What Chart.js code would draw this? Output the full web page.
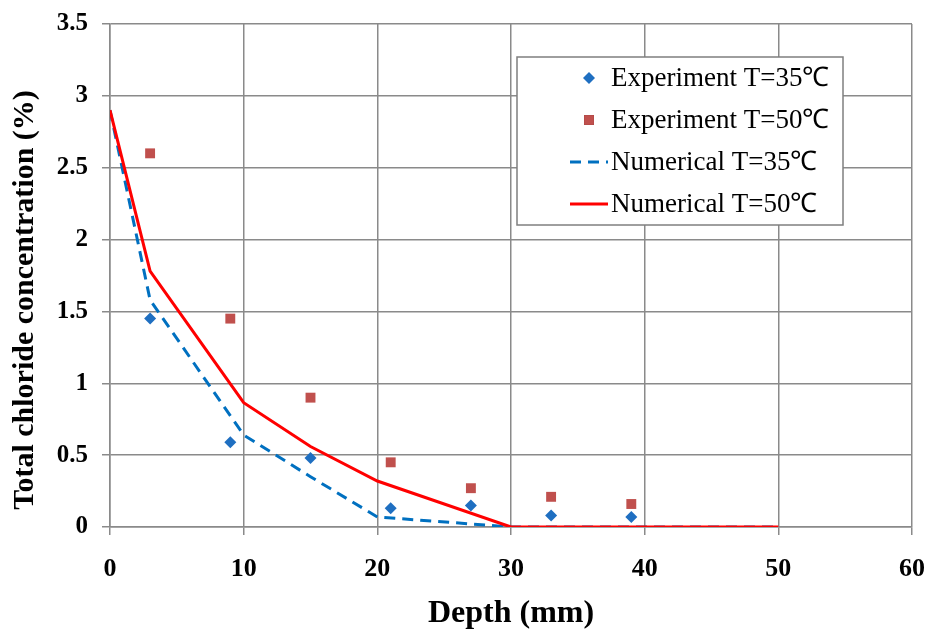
<!DOCTYPE html>
<html lang="en">
<head>
<meta charset="UTF-8">
<title>Total chloride concentration vs depth</title>
<script src="https://cdn.jsdelivr.net/npm/chart.js"></script>
<style>
  html, body { margin: 0; padding: 0; background: #fff; }
  #wrap { width: 930px; height: 633px; }
</style>
</head>
<body>
<div id="wrap"><canvas id="grafico" width="930" height="633"></canvas></div>

<script>
// measured profiles (depth in mm, concentration in %)
const depthExp = [3, 9, 15, 21, 27, 33, 39];
const exp35 = [1.45, 0.59, 0.48, 0.13, 0.15, 0.08, 0.07];
const exp50 = [2.6, 1.45, 0.9, 0.45, 0.27, 0.21, 0.16];

// model curves
const depthNum = [0, 3, 10, 15, 20, 30, 50];
const num35 = [2.9, 1.58, 0.64, 0.35, 0.07, 0, 0];
const num50 = [2.9, 1.78, 0.865, 0.56, 0.32, 0, 0];

const labels = [
  "Experiment T=35\u2103",
  "Experiment T=50\u2103",
  "Numerical T=35\u2103",
  "Numerical T=50\u2103",
];
const tituloY = "Total chloride concentration (%)";

function pares(xs, ys) {
  return xs.map((x, i) => ({ x: x, y: ys[i] }));
}

const serif = "'Liberation Serif', 'Times New Roman', serif";
const gridColor = "#8a8a8a";

// y axis title, a bit below the middle of the axis
const tituloEixoY = {
  id: "tituloEixoY",
  afterDraw(chart) {
    const ctx = chart.ctx;
    ctx.save();
    ctx.translate(25, 300);
    ctx.rotate(-Math.PI / 2);
    ctx.font = "bold 30px " + serif;
    ctx.fillStyle = "#000";
    ctx.textAlign = "center";
    ctx.textBaseline = "middle";
    ctx.fillText(tituloY, 0, 0);
    ctx.restore();
  },
};

// legend box drawn by hand inside the plot area
const legendaCaixa = {
  id: "legendaCaixa",
  afterDraw(chart) {
    const ctx = chart.ctx;
    const bx = 517, by = 57, bw = 326, bh = 168;
    ctx.save();
    ctx.fillStyle = "#fff";
    ctx.fillRect(bx, by, bw, bh);
    ctx.strokeStyle = "#7f7f7f";
    ctx.lineWidth = 1.5;
    ctx.strokeRect(bx, by, bw, bh);

    ctx.font = "27px " + serif;
    ctx.textBaseline = "middle";
    ctx.textAlign = "left";
    chart.data.datasets.forEach((ds, i) => {
      const cy = by + 21 + i * 42;
      if (ds.showLine) {
        ctx.strokeStyle = ds.borderColor;
        ctx.lineWidth = ds.borderWidth;
        ctx.setLineDash(ds.borderDash || []);
        ctx.beginPath();
        ctx.moveTo(570, cy);
        ctx.lineTo(608, cy);
        ctx.stroke();
        ctx.setLineDash([]);
      } else {
        Chart.helpers.drawPoint(ctx, {
          pointStyle: ds.pointStyle,
          radius: ds.pointRadius,
          borderWidth: 0,
        }, 589, cy);
        ctx.fillStyle = ds.backgroundColor;
        ctx.fill();
      }
      ctx.fillStyle = "#000";
      ctx.fillText(ds.label, 611, cy + 1);
    });
    ctx.restore();
  },
};

const dados = {
  datasets: [
    {
      label: labels[0],
      data: pares(depthExp, exp35),
      showLine: false,
      pointStyle: "rectRot",
      pointRadius: 6,
      pointHoverRadius: 6,
      backgroundColor: "#1f6fc1",
      borderColor: "#1f6fc1",
      pointBorderWidth: 0,
      order: 0,
    },
    {
      label: labels[1],
      data: pares(depthExp, exp50),
      showLine: false,
      pointStyle: "rect",
      pointRadius: 7,
      pointHoverRadius: 7,
      backgroundColor: "#c0504d",
      borderColor: "#c0504d",
      pointBorderWidth: 0,
      order: 1,
    },
    {
      label: labels[2],
      data: pares(depthNum, num35),
      showLine: true,
      borderColor: "#0070c0",
      borderWidth: 3,
      borderDash: [11, 7],
      pointRadius: 0,
      tension: 0,
      order: 3,
    },
    {
      label: labels[3],
      data: pares(depthNum, num50),
      showLine: true,
      borderColor: "#ff0000",
      borderWidth: 3,
      pointRadius: 0,
      tension: 0,
      order: 2,
    },
  ],
};

const config = {
  type: "scatter",
  data: dados,
  plugins: [legendaCaixa, tituloEixoY],
  options: {
    responsive: false,
    animation: false,
    layout: { padding: { top: 24, right: 18, left: 0, bottom: 0 } },
    plugins: {
      legend: { display: false },
      tooltip: { enabled: false },
    },
    scales: {
      x: {
        type: "linear",
        min: 0,
        max: 60,
        // fixed axis height; label overhang is already covered by layout padding
        afterFit: (s) => {
          s.height = 106;
          s.paddingLeft = 0;
          s.paddingRight = 0;
        },
        ticks: {
          stepSize: 10,
          color: "#000",
          padding: 19,
          font: { family: serif, size: 26, weight: "bold" },
        },
        grid: { color: gridColor, lineWidth: 1.5, tickLength: 8 },
        border: { color: gridColor, width: 1.5 },
        title: {
          display: true,
          text: "Depth (mm)",
          color: "#000",
          padding: { top: 0, bottom: 0 },
          font: { family: serif, size: 32, weight: "bold" },
        },
      },
      y: {
        min: 0,
        max: 3.5,
        afterFit: (s) => {
          s.width = 110;
          s.paddingTop = 0;
          s.paddingBottom = 0;
        },
        ticks: {
          stepSize: 0.5,
          color: "#000",
          padding: 14,
          font: { family: serif, size: 25, weight: "bold" },
          callback: (v) => String(v),
        },
        grid: { color: gridColor, lineWidth: 1.5, tickLength: 8 },
        border: { color: gridColor, width: 1.5 },
      },
    },
  },
};

const myChart = new Chart(document.getElementById("grafico"), config);
</script>
</body>
</html>
